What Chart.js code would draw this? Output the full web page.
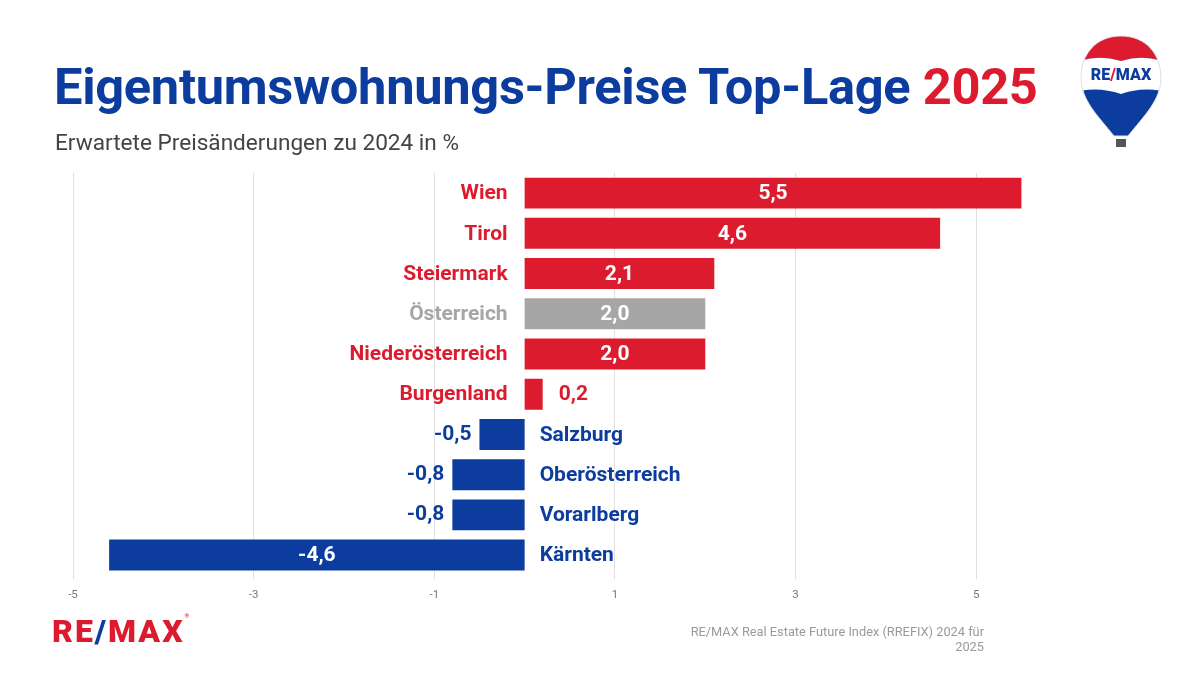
<!DOCTYPE html>
<html><head><meta charset="utf-8">
<script src="https://cdn.jsdelivr.net/npm/chart.js@4"></script>
<style>
html,body{margin:0;padding:0;background:#fff;width:1203px;height:677px;overflow:hidden;font-family:Roboto,"Noto Sans",sans-serif;}
#wrap{position:relative;width:1203px;height:677px;}
canvas{position:absolute;left:0;top:0;}
#title{position:absolute;left:54px;top:62px;font-weight:700;font-size:50.6px;color:#0b3c9e;letter-spacing:-0.3px;white-space:nowrap;line-height:1;}
#title span{color:#dc1c2e;}
#sub{position:absolute;left:55px;top:129px;font-size:22.6px;color:#444;white-space:nowrap;}
#logo{position:absolute;left:52px;top:612px;font-weight:900;font-size:32px;color:#dc1c2e;letter-spacing:2px;}
#logo .s{color:#0b3c9e;}
#logo sup{font-size:6px;vertical-align:top;}
#src{position:absolute;right:219px;top:624px;font-size:12.8px;color:#9a9a9a;text-align:right;line-height:15px;width:370px;}
#balloon{position:absolute;left:1076px;top:34px;}
</style></head><body><div id="wrap">
<canvas id="c" width="1203" height="677"></canvas>
<div id="title">Eigentumswohnungs-Preise Top-Lage <span>2025</span></div>
<div id="sub">Erwartete Preisänderungen zu 2024 in %</div>
<div id="logo">RE<span class="s">/</span>MAX<sup>®</sup></div>
<div id="src">RE/MAX Real Estate Future Index (RREFIX) 2024 für<br>2025</div>
<svg id="balloon" width="90" height="118" viewBox="0 0 90 118">
  <defs><clipPath id="bc"><path d="M45 2 C20 2 5 20 5 44 C5 66 22 82 38 102 L52 102 C68 82 85 66 85 44 C85 20 70 2 45 2 Z"/></clipPath></defs>
  <g clip-path="url(#bc)">
    <rect x="0" y="0" width="90" height="120" fill="#0b3c9e"/>
    <path d="M0 0 H90 V28 Q67 20 45 27 Q22 20 0 28 Z" fill="#dc1c2e"/>
    <path d="M0 28 Q22 20 45 27 Q67 20 90 28 V58 Q67 52 45 60 Q22 52 0 58 Z" fill="#fff"/>
  </g>
  <path d="M45 2 C20 2 5 20 5 44 C5 66 22 82 38 102 L52 102 C68 82 85 66 85 44 C85 20 70 2 45 2 Z" fill="none" stroke="#e6e6e6" stroke-width="1"/>
  <text x="45" y="46" text-anchor="middle" font-family="Roboto" font-weight="900" font-size="16" fill="#0b3c9e">RE<tspan fill="#dc1c2e">/</tspan>MAX</text>
  <rect x="40" y="105" width="10" height="8" fill="#555"/>
</svg>
</div>
<script>
const categories = ["Wien","Tirol","Steiermark","Österreich","Niederösterreich","Burgenland","Salzburg","Oberösterreich","Vorarlberg","Kärnten"];
const values = [5.5,4.6,2.1,2.0,2.0,0.2,-0.5,-0.8,-0.8,-4.6];
const tickValues = [-5,-3,-1,1,3,5];

const RED="#dc1c2e", BLUE="#0b3c9e", GRAY="#a6a6a6";
function colorFor(i){ if(categories[i]==="Österreich") return GRAY; return values[i]>=0?RED:BLUE; }
const fmt = v => v.toFixed(1).replace(".",",");

const labelPlugin = {
  id:"labels",
  afterDatasetsDraw(chart){
    const ctx = chart.ctx;
    const meta = chart.getDatasetMeta(0);
    ctx.save();
    ctx.font = "700 21px Roboto";
    ctx.textBaseline = "middle";
    meta.data.forEach((bar,i)=>{
      const v = values[i], col = colorFor(i);
      const x = bar.x, base = bar.base, y = bar.y + 1;
      const w = Math.abs(x-base);
      ctx.fillStyle = col;
      if (v>=0){ ctx.textAlign="right"; ctx.fillText(categories[i], base-17, y); }
      else { ctx.textAlign="left"; ctx.fillText(categories[i], base+15, y); }
      const t = fmt(v);
      if (w>120){ ctx.fillStyle="#fff"; ctx.textAlign="center"; ctx.fillText(t,(x+base)/2,y); }
      else if (v>=0){ ctx.fillStyle=col; ctx.textAlign="left"; ctx.fillText(t,x+16,y); }
      else { ctx.fillStyle=col; ctx.textAlign="right"; ctx.fillText(t,x-8,y-1); }
    });
    ctx.restore();
  }
};

new Chart(document.getElementById("c"),{
  type:"bar",
  data:{labels:categories,datasets:[{data:values,backgroundColor:categories.map((c,i)=>colorFor(i)),barPercentage:0.77,categoryPercentage:1.0,borderWidth:0}]},
  options:{
    indexAxis:"y",responsive:false,animation:false,
    layout:{padding:{left:73,right:103,top:173,bottom:66}},
    plugins:{legend:{display:false},tooltip:{enabled:false}},
    scales:{
      y:{display:false},
      x:{min:-5,max:6.37,
        afterBuildTicks(ax){ ax.ticks = tickValues.map(v=>({value:v})); },
        grid:{color:"#e0e0e0",drawTicks:true,tickLength:4},
        border:{display:false},
        ticks:{color:"#777",font:{family:"Roboto",size:11.5},padding:9,maxRotation:0,autoSkip:false,callback:v=>String(v)}
      }
    }
  },
  plugins:[labelPlugin]
});
</script></body></html>
